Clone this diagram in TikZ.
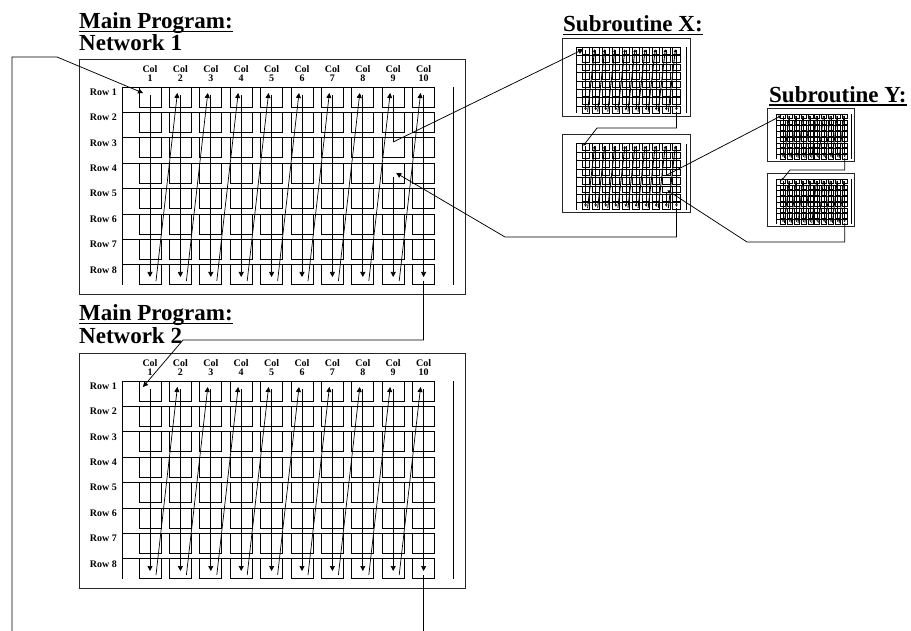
\documentclass[tikz,border=0pt]{standalone}
\usepackage{fontspec}
\setmainfont{Liberation Serif}
\usetikzlibrary{arrows.meta}
\def\gridlw{0.7pt}
\tikzset{
 netframe/.style={draw=black!85, line width=0.9pt},
 gridline/.style={draw=black, line width=\gridlw},
 conn/.style={draw=black, line width=0.75pt},
 heading/.style={font=\bfseries\fontsize{23}{23}\selectfont, inner sep=0pt, anchor=base west},
 collab/.style={font=\bfseries\fontsize{10}{10}\selectfont, inner sep=0pt, anchor=base},
 rowlab/.style={font=\bfseries\fontsize{10}{10}\selectfont, inner sep=0pt, anchor=base east},
 tipA/.style={-{Triangle[length=5pt,width=5pt]}},
 uline/.style={draw=black, line width=1.1pt},
}
% #1 prefix, #2 ox, #3 oy, #4 scale, #5 tip size, #6 callout flag, #7 out y, #8 in y
\newcommand{\netfig}[8]{%
\begin{scope}[shift={(#2,#3)},scale=#4]
 \draw[netframe] (0,0) rectangle (386,235);
 \coordinate (#1-nw) at (0,0);
 \coordinate (#1-in) at (64,34);
 \coordinate (#1-out) at (344.6,222);
 \draw[gridline] (43,28) -- (43,226);
 \draw[gridline] (374,28) -- (374,226);
 \foreach \j in {0,...,7}{
   \draw[gridline] (43,{28+25.4*\j}) -- (355.6,{28+25.4*\j});
   \foreach \k in {0,...,9}
     \draw[gridline] ({60+30.4*\k},{28+25.4*\j}) rectangle ++(22,20);
 }
 \foreach \k in {0,...,8}
   \draw[gridline,-{Triangle[length=#5,width=#5]}] ({77+30.4*\k},222) -- ({98.4+30.4*\k},34);
 \foreach \k in {0,...,7,9}
   \draw[gridline,-{Triangle[length=#5,width=#5]}] ({71+30.4*\k},36) -- ({71+30.4*\k},218);
 \ifnum#6=1
   \draw[gridline] (314.2,36) -- (314.2,#7) coordinate (#1-co);
   \coordinate (#1-ci) at (317.2,#8);
   \draw[gridline,-{Triangle[length=#5,width=#5]}] (314.2,{#8+4}) -- (314.2,218);
 \else
   \draw[gridline,-{Triangle[length=#5,width=#5]}] (314.2,36) -- (314.2,218);
 \fi
\end{scope}}
% labels: #1 prefix, #2 ox, #3 oy
\newcommand{\netlabels}[3]{%
\begin{scope}[shift={(#2,#3)}]
 \foreach \k in {1,...,10}{
   \node[collab] (#1-colA\k) at ({71+30.4*(\k-1)},13.7) {Col};
   \node[collab] (#1-colB\k) at ({71+30.4*(\k-1)},22.7) {\k};
 }
 \foreach \j in {1,...,8}
   \node[rowlab] (#1-row\j) at (38,{36.3+25.4*(\j-1)}) {Row \j};
\end{scope}}
\begin{document}
\begin{tikzpicture}[x=1pt,y=-1pt]
\fill[white] (0,0) rectangle (911,631);
\useasboundingbox (0,0) rectangle (911,631);

% headings
\node[heading] (h1) at (79,28.5) {Main Program:};
\draw[uline] ([yshift=-3pt]h1.base west) -- ([yshift=-3pt]h1.base east);
\node[heading] (h1b) at (79,50.5) {Network 1};
\node[heading] (h2) at (79,320.5) {Main Program:};
\draw[uline] ([yshift=-3pt]h2.base west) -- ([yshift=-3pt]h2.base east);
\node[heading] (h2b) at (79,344) {Network 2};
\node[heading] (hx) at (563,32) {Subroutine X:};
\draw[uline] ([yshift=-2.5pt]hx.base west) -- ([yshift=-2.5pt]hx.base east);
\node[heading] (hy) at (769,102.5) {Subroutine Y:};
\draw[uline] ([yshift=-2.5pt]hy.base west) -- ([yshift=-2.5pt]hy.base east);

% networks
\netfig{A}{79}{59}{1}{5pt}{1}{83}{114}
\netlabels{A}{79}{59}
\netfig{B}{79}{353}{1}{5pt}{0}{0}{0}
\netlabels{B}{79}{353}
\def\gridlw{0.85pt}
\netfig{X1}{562}{38}{0.332}{2.6pt}{0}{0}{0}
\netfig{X2}{562}{134.5}{0.332}{2.6pt}{1}{123}{168}
\def\gridlw{0.75pt}
\netfig{Y1}{767}{108}{0.2254}{1.8pt}{0}{0}{0}
\netfig{Y2}{767}{173}{0.2254}{1.8pt}{0}{0}{0}

% junction coordinates
\coordinate (L-top) at (12,57);
\coordinate (L-knee) at (57,57);
\coordinate (L-bot) at (12,631);
\coordinate (J1) at (183,340);
\coordinate (J2) at (597,128);
\coordinate (J3) at (790,170);
\coordinate (J4) at (747,242);
\coordinate (J5) at (505,237);

% connectors
\draw[conn,tipA] (L-bot) -- (L-top) -- (L-knee) -- (A-in);
\draw[conn,tipA] (A-out) -- (A-out |- J1) -- (J1) -- (B-in);
\draw[conn] (B-out) -- (B-out |- L-bot);
\draw[conn,tipA] (A-co) -- (X1-in);
\draw[conn,-{Triangle[length=3pt,width=3pt]}] (X1-out) -- (X1-out |- J2) -- (J2) -- (X2-in);
\draw[conn,-{Triangle[length=3pt,width=3pt]}] (X2-co) -- (Y1-in);
\draw[conn,-{Triangle[length=2.5pt,width=2.5pt]}] (Y1-out) -- (Y1-out |- J3) -- (J3) -- (Y2-in);
\draw[conn,-{Triangle[length=3pt,width=3pt]}] (Y2-out) -- (Y2-out |- J4) -- (J4) -- (X2-ci);
\draw[conn,tipA] (X2-out) -- (X2-out |- J5) -- (J5) -- (A-ci);
\end{tikzpicture}
\end{document}
